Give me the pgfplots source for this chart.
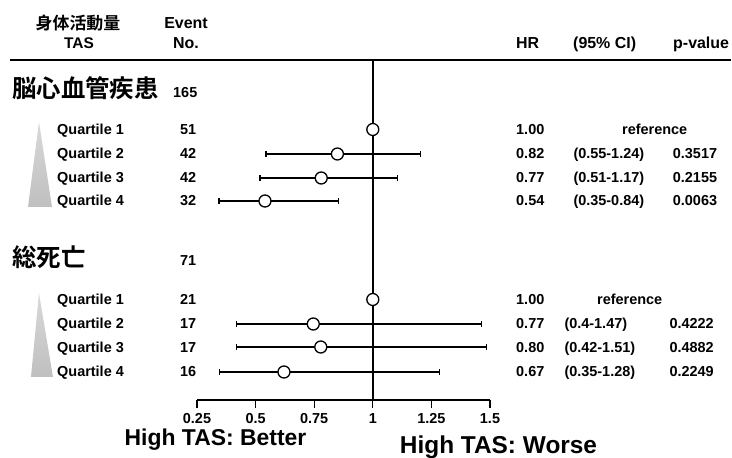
\documentclass[border=0pt]{standalone}
\usepackage{pgfplots}
\pgfplotsset{compat=1.18}
\usepackage{fontspec}
\setmainfont{Liberation Sans}
\newfontfamily\cjk{Noto Sans CJK JP Bold}
\newcommand\fs[1]{\fontsize{#1}{#1}\selectfont}
\begin{document}
\begin{tikzpicture}
\begin{axis}[
  scale only axis, width=293bp, height=340bp,
  xmin=0.25, xmax=1.5, ymin=-400, ymax=-60,
  axis x line*=bottom, axis y line=none,
  xtick={0.25,0.5,0.75,1,1.25,1.5},
  xticklabels={0.25,0.5,0.75,1,1.25,1.5},
  tick align=outside, major tick length=8bp,
  x axis line style={line width=1.4bp},
  every tick/.style={black, line width=1.3bp},
  xticklabel style={font=\bfseries\fs{14.5}, anchor=base, yshift=-15.5bp},
  clip=false,
]
% reference line at HR = 1
\addplot[black, line width=1.5bp] coordinates {(1,-60) (1,-400)};
% confidence intervals
\addplot[black, line width=1.2bp, mark=|, mark size=2.8bp, mark options={line width=1.2bp}] coordinates {(0.544,-154) (1.205,-154)};
\addplot[black, line width=1.2bp, mark=|, mark size=2.8bp, mark options={line width=1.2bp}] coordinates {(0.519,-178) (1.104,-178)};
\addplot[black, line width=1.2bp, mark=|, mark size=2.8bp, mark options={line width=1.2bp}] coordinates {(0.344,-201) (0.852,-201)};
\addplot[black, line width=1.2bp, mark=|, mark size=2.8bp, mark options={line width=1.2bp}] coordinates {(0.419,-324) (1.462,-324)};
\addplot[black, line width=1.2bp, mark=|, mark size=2.8bp, mark options={line width=1.2bp}] coordinates {(0.419,-347) (1.486,-347)};
\addplot[black, line width=1.2bp, mark=|, mark size=2.8bp, mark options={line width=1.2bp}] coordinates {(0.345,-372) (1.284,-372)};
% hazard ratios
\addplot[only marks, mark=*, mark size=6bp, mark options={fill=white, draw=black, line width=1.3bp}] coordinates {
(1,-129.5) (0.849,-154) (0.780,-178) (0.540,-201)
(1,-299.5) (0.746,-324) (0.778,-347) (0.621,-372)};
\coordinate (O) at (axis cs:-0.59044,0);
\end{axis}
\begin{scope}[shift={(O)}, x=1bp, y=-1bp]
\draw[line width=1.5bp] (10,60) -- (731,60);
% header
\node[anchor=base, inner sep=0] at (78,30) {\cjk\fs{17}身体活動量};
\node[anchor=base, inner sep=0] at (79,49) {\bfseries\fs{15.5}TAS};
\node[anchor=base, inner sep=0] at (186,29) {\bfseries\fs{16}Event};
\node[anchor=base, inner sep=0] at (186,48.5) {\bfseries\fs{16}No.};
\node[anchor=base west, inner sep=0] at (516,49) {\bfseries\fs{16}HR};
\node[anchor=base west, inner sep=0] at (573,49) {\bfseries\fs{16}(95\% CI)};
\node[anchor=base west, inner sep=0] at (673,49) {\bfseries\fs{16}p-value};
% triangles
\shade[top color=gray!30, bottom color=gray!50] (39,122) -- (52,207) -- (28,207) -- cycle;
\shade[top color=gray!30, bottom color=gray!50] (39,293) -- (53,377) -- (31,377) -- cycle;
% block 1
\node[anchor=base west, inner sep=0] at (12,98) {\cjk\fs{24.5}脳心血管疾患};
\node[anchor=base west, inner sep=0] at (173,98) {\bfseries\fs{14.5}165};
\foreach \q/\n/\b in {1/51/135, 2/42/158.5, 3/42/182.5, 4/32/206}{
  \node[anchor=base west, inner sep=0] at (57,\b) {\bfseries\fs{14.5}Quartile \q};
  \node[anchor=base west, inner sep=0] at (180,\b) {\bfseries\fs{14.5}\n};
}
\node[anchor=base west, inner sep=0] at (516,135) {\bfseries\fs{14.5}1.00};
\node[anchor=base west, inner sep=0] at (622,135) {\bfseries\fs{14.5}reference};
\foreach \h/\c/\p/\b in {0.82/(0.55-1.24)/0.3517/158.5, 0.77/(0.51-1.17)/0.2155/182.5, 0.54/(0.35-0.84)/0.0063/206}{
  \node[anchor=base west, inner sep=0] at (516,\b) {\bfseries\fs{14.5}\h};
  \node[anchor=base west, inner sep=0] at (573.3,\b) {\bfseries\fs{14.5}\c};
  \node[anchor=base west, inner sep=0] at (672.7,\b) {\bfseries\fs{14.5}\p};
}
% block 2
\node[anchor=base west, inner sep=0] at (12,267) {\cjk\fs{24.5}総死亡};
\node[anchor=base west, inner sep=0] at (180,266) {\bfseries\fs{14.5}71};
\foreach \q/\n/\b in {1/21/305, 2/17/329, 3/17/352.5, 4/16/376.5}{
  \node[anchor=base west, inner sep=0] at (57,\b) {\bfseries\fs{14.5}Quartile \q};
  \node[anchor=base west, inner sep=0] at (180,\b) {\bfseries\fs{14.5}\n};
}
\node[anchor=base west, inner sep=0] at (516,305) {\bfseries\fs{14.5}1.00};
\node[anchor=base west, inner sep=0] at (597,305) {\bfseries\fs{14.5}reference};
\foreach \h/\c/\p/\b in {0.77/(0.4-1.47)/0.4222/329, 0.80/(0.42-1.51)/0.4882/352.5, 0.67/(0.35-1.28)/0.2249/376.5}{
  \node[anchor=base west, inner sep=0] at (516,\b) {\bfseries\fs{14.5}\h};
  \node[anchor=base west, inner sep=0] at (564.3,\b) {\bfseries\fs{14.5}\c};
  \node[anchor=base west, inner sep=0] at (669.3,\b) {\bfseries\fs{14.5}\p};
}
% bottom labels
\node[anchor=base, inner sep=0] at (215.5,446) {\bfseries\fs{23}High TAS: Better};
\node[anchor=base, inner sep=0] at (498.5,453.5) {\bfseries\fs{24.5}High TAS: Worse};
\pgfresetboundingbox
\path[use as bounding box] (0,0) rectangle (732,458);
\end{scope}
\end{tikzpicture}
\end{document}
